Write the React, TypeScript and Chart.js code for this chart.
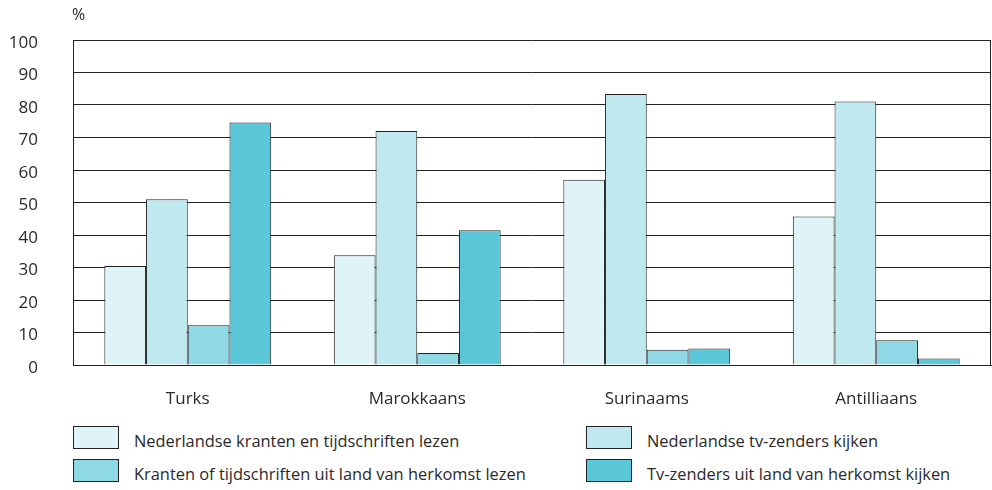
import React, { useEffect, useRef } from "react";
import { Chart, registerables } from "chart.js";

Chart.register(...registerables);

const categories = ["Turks", "Marokkaans", "Surinaams", "Antilliaans"];
const seriesNames = [
  "Nederlandse kranten en tijdschriften lezen",
  "Nederlandse tv-zenders kijken",
  "Kranten of tijdschriften uit land van herkomst lezen",
  "Tv-zenders uit land van herkomst kijken",
];
const nlKranten = [30.5, 33.8, 57, 45.7];
const nlTv = [51, 72, 83.4, 81.1];
const herkomstKranten = [12.2, 3.7, 4.7, 7.6];
const herkomstTv = [74.6, 41.5, 5.1, 2];
const seriesValues = [nlKranten, nlTv, herkomstKranten, herkomstTv];
const seriesColors = ["#dff4f7", "#bfe9ef", "#8ed9e5", "#5bc8d9"];
const yTicks = [0, 10, 20, 30, 40, 50, 60, 70, 80, 90, 100];

const FONT = "'Open Sans', 'Noto Sans', sans-serif";
const TEXT = "#2a2a2a";
const LINE = "#222222";

const framePlugin = {
  id: "frame",
  beforeDatasetsDraw(chart: any) {
    const { ctx, chartArea } = chart;
    ctx.save();
    ctx.strokeStyle = LINE;
    ctx.lineWidth = 1;
    ctx.beginPath();
    ctx.moveTo(Math.round(chartArea.right) - 0.5, chartArea.top);
    ctx.lineTo(Math.round(chartArea.right) - 0.5, chartArea.bottom);
    ctx.stroke();
    ctx.restore();
  },
  afterDraw(chart: any) {
    const { ctx, chartArea } = chart;
    ctx.save();
    ctx.fillStyle = TEXT;
    ctx.font = `16px ${FONT}`;
    ctx.textAlign = "left";
    ctx.textBaseline = "middle";
    ctx.fillText("%", chartArea.left - 1, 15);
    ctx.restore();
  },
};

export default function App() {
  const ref = useRef<HTMLCanvasElement | null>(null);
  useEffect(() => {
    if (!ref.current) return;
    const chart = new Chart(ref.current, {
      type: "bar",
      data: {
        labels: categories,
        datasets: seriesNames.map((name, i) => ({
          label: name,
          data: seriesValues[i],
          backgroundColor: seriesColors[i],
          borderColor: LINE,
          borderWidth: 1,
          categoryPercentage: 0.727,
          barPercentage: 1,
        })),
      },
      options: {
        responsive: false,
        animation: false,
        devicePixelRatio: 1,
        layout: { padding: { top: 40, right: 1, left: 0, bottom: 0 } },
        plugins: {
          legend: { display: false },
          tooltip: { enabled: false },
          title: { display: false },
        },
        scales: {
          x: {
            grid: { display: false, drawTicks: false },
            border: { display: true, color: LINE, width: 1 },
            ticks: { color: TEXT, font: { family: FONT, size: 17 }, padding: 24 },
            afterFit: (s: any) => {
              s.height = 56;
              s.paddingLeft = 0;
              s.paddingRight = 0;
            },
          },
          y: {
            min: 0,
            max: 100,
            afterBuildTicks: (s: any) => {
              s.ticks = yTicks.map((v) => ({ value: v }));
            },
            grid: { color: LINE, lineWidth: 1, drawTicks: false },
            border: { display: true, color: LINE, width: 1 },
            ticks: { color: TEXT, font: { family: FONT, size: 17 }, padding: 35, labelOffset: 3 },
            afterFit: (s: any) => {
              s.width = 73;
              s.paddingTop = 0;
              s.paddingBottom = 0;
            },
          },
        },
      },
      plugins: [framePlugin],
    });
    return () => chart.destroy();
  }, []);

  const legendPos = [
    { left: 73, top: 426 },
    { left: 586, top: 426 },
    { left: 73, top: 459 },
    { left: 586, top: 459 },
  ];

  return (
    <div style={{ position: "absolute", left: 0, top: 0, width: 992, height: 490, background: "#fff" }}>
      <canvas ref={ref} width={992} height={421} style={{ display: "block", width: 992, height: 421 }} />
      {seriesNames.map((name, i) => (
        <div
          key={name}
          style={{
            position: "absolute",
            left: legendPos[i].left,
            top: legendPos[i].top,
            height: 23,
            display: "flex",
            alignItems: "center",
            fontFamily: FONT,
            fontSize: 16.4,
            color: TEXT,
            whiteSpace: "nowrap",
          }}
        >
          <span
            style={{
              display: "inline-block",
              width: 44,
              height: 21,
              background: seriesColors[i],
              border: `1px solid ${LINE}`,
              marginRight: 15,
            }}
          />
          <span style={{ position: "relative", top: 3 }}>{name}</span>
        </div>
      ))}
    </div>
  );
}
